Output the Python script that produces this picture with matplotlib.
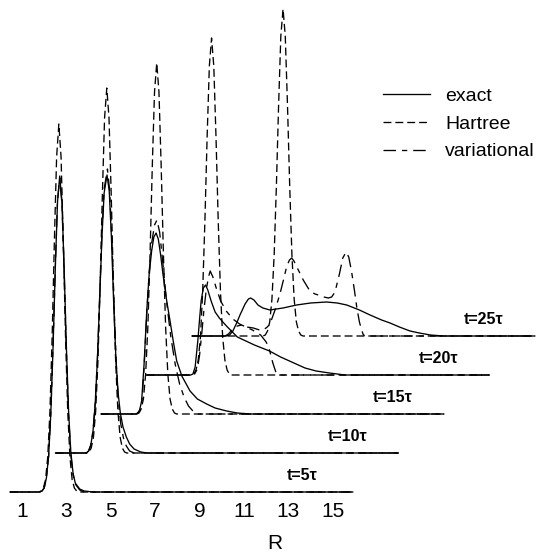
import matplotlib
matplotlib.use('Agg')
import matplotlib.pyplot as plt

plt.rcParams['font.family'] = ['Liberation Sans', 'DejaVu Sans']

# ---------------- data ----------------
time_labels = ['t=5τ', 't=10τ', 't=15τ', 't=20τ', 't=25τ']
x_ticks = [1, 3, 5, 7, 9, 11, 13, 15]
method_labels = ['exact', 'Hartree', 'variational']

# t = 5 tau
t5_exact_R = [1.8, 1.9, 2.0, 2.1, 2.2, 2.3, 2.4, 2.5, 2.6, 2.7, 2.8, 2.9, 3.0, 3.1, 3.2, 3.3, 3.4, 3.6, 3.8, 4.2]
t5_exact = [0, 0.01, 0.04, 0.14, 0.36, 0.79, 1.45, 2.23, 2.90, 3.16, 2.90, 2.23, 1.45, 0.80, 0.40, 0.19, 0.09, 0.03, 0.01, 0]
t5_hartree_R = [1.76, 1.86, 1.96, 2.06, 2.16, 2.26, 2.36, 2.46, 2.56, 2.66, 2.76, 2.86, 2.96, 3.06, 3.16, 3.26, 3.36, 3.46, 3.56]
t5_hartree = [0, 0.01, 0.04, 0.12, 0.35, 0.81, 1.57, 2.52, 3.35, 3.68, 3.35, 2.52, 1.57, 0.81, 0.35, 0.12, 0.04, 0.01, 0]
t5_var_R = [1.8, 1.9, 2.0, 2.1, 2.2, 2.3, 2.4, 2.5, 2.6, 2.7, 2.8, 2.9, 3.0, 3.1, 3.2, 3.3, 3.4, 3.6, 3.8, 4.2]
t5_var = [0, 0.01, 0.04, 0.14, 0.36, 0.80, 1.47, 2.25, 2.91, 3.14, 2.88, 2.20, 1.42, 0.77, 0.37, 0.17, 0.08, 0.02, 0.0, 0]

# t = 10 tau
t10_exact_R = [1.85, 1.95, 2.05, 2.15, 2.25, 2.35, 2.45, 2.55, 2.65, 2.78, 2.88, 2.98, 3.08, 3.18, 3.28, 3.38, 3.5, 3.65, 3.8, 4.0, 4.3, 4.6]
t10_exact = [0, 0.02, 0.08, 0.22, 0.50, 0.95, 1.55, 2.15, 2.60, 2.78, 2.62, 2.15, 1.50, 0.95, 0.60, 0.40, 0.26, 0.16, 0.09, 0.04, 0.01, 0]
t10_hartree_R = [1.87, 1.97, 2.07, 2.17, 2.27, 2.37, 2.47, 2.57, 2.67, 2.77, 2.87, 2.97, 3.07, 3.17, 3.27, 3.37, 3.47, 3.57, 3.67]
t10_hartree = [0, 0.01, 0.05, 0.16, 0.42, 0.91, 1.67, 2.58, 3.35, 3.65, 3.35, 2.58, 1.67, 0.91, 0.42, 0.16, 0.05, 0.01, 0]
t10_var_R = [1.85, 1.95, 2.05, 2.15, 2.25, 2.35, 2.45, 2.55, 2.65, 2.80, 2.90, 3.00, 3.10, 3.20, 3.30, 3.40, 3.52, 3.65, 3.80, 4.0]
t10_var = [0, 0.02, 0.08, 0.22, 0.50, 0.96, 1.57, 2.18, 2.64, 2.84, 2.62, 2.12, 1.46, 0.88, 0.50, 0.29, 0.15, 0.07, 0.02, 0]

# t = 15 tau
t15_exact_R = [2.05, 2.12, 2.2, 2.29, 2.4, 2.52, 2.63, 2.74, 2.84, 2.94, 3.04, 3.14, 3.25, 3.42, 3.57, 3.72, 3.87, 4.1, 4.47, 4.8, 5.22, 5.6, 6.12, 6.6, 7.2]
t15_exact = [0, 0.01, 0.04, 0.13, 0.50, 1.03, 1.40, 1.63, 1.77, 1.81, 1.75, 1.60, 1.40, 1.13, 0.93, 0.72, 0.53, 0.38, 0.23, 0.15, 0.10, 0.06, 0.03, 0.01, 0]
t15_hartree_R = [2.07, 2.17, 2.27, 2.37, 2.47, 2.57, 2.67, 2.77, 2.87, 2.97, 3.07, 3.17, 3.27, 3.37, 3.47, 3.57, 3.67, 3.77, 3.87]
t15_hartree = [0, 0.01, 0.05, 0.15, 0.40, 0.87, 1.61, 2.48, 3.22, 3.51, 3.22, 2.48, 1.61, 0.87, 0.40, 0.15, 0.05, 0.01, 0]
t15_var_R = [2.05, 2.2, 2.3, 2.4, 2.52, 2.63, 2.75, 2.87, 2.98, 3.1, 3.25, 3.4, 3.6, 3.8, 4.0, 4.2, 4.4, 4.6, 4.85]
t15_var = [0, 0.03, 0.12, 0.46, 1.00, 1.42, 1.72, 1.89, 1.94, 1.82, 1.50, 1.15, 0.78, 0.50, 0.30, 0.17, 0.08, 0.03, 0]

# t = 20 tau
t20_exact_R = [2.45, 2.55, 2.65, 2.77, 2.85, 2.92, 3.02, 3.12, 3.22, 3.37, 3.55, 3.74, 4.06, 4.55, 5.32, 6.0, 6.5, 6.9, 7.3, 7.6, 8.1, 8.7, 9.4]
t20_exact = [0, 0.01, 0.08, 0.34, 0.56, 0.74, 0.87, 0.90, 0.85, 0.74, 0.63, 0.57, 0.49, 0.38, 0.30, 0.24, 0.18, 0.14, 0.10, 0.07, 0.04, 0.02, 0]
t20_hartree_R = [2.49, 2.59, 2.69, 2.79, 2.89, 2.99, 3.09, 3.19, 3.29, 3.39, 3.49, 3.59, 3.69, 3.79, 3.89, 3.99, 4.09, 4.19, 4.29]
t20_hartree = [0, 0.01, 0.05, 0.15, 0.38, 0.84, 1.54, 2.38, 3.09, 3.37, 3.09, 2.38, 1.54, 0.84, 0.38, 0.15, 0.05, 0.01, 0]
t20_var_R = [2.6, 2.75, 2.85, 2.95, 3.05, 3.15, 3.25, 3.33, 3.45, 3.6, 3.8, 4.05, 4.35, 4.65, 5.23, 5.6, 5.85, 6.0, 6.15, 6.3, 6.4]
t20_var = [0, 0.06, 0.20, 0.42, 0.66, 0.85, 0.98, 1.04, 0.98, 0.87, 0.74, 0.64, 0.56, 0.51, 0.45, 0.40, 0.33, 0.25, 0.12, 0.02, 0]

# t = 25 tau
t25_exact_R = [2.0, 2.15, 2.3, 2.47, 2.62, 2.85, 3.0, 3.10, 3.25, 3.43, 3.65, 3.97, 4.56, 5.17, 5.8, 6.52, 7.0, 7.43, 8.0, 8.48, 9.0, 9.38, 9.8, 10.28, 10.7, 11.2, 11.8]
t25_exact = [0, 0.01, 0.05, 0.13, 0.21, 0.32, 0.37, 0.38, 0.36, 0.31, 0.28, 0.26, 0.28, 0.31, 0.33, 0.34, 0.33, 0.31, 0.26, 0.21, 0.16, 0.13, 0.09, 0.05, 0.03, 0.01, 0]
t25_hartree_R = [3.66, 3.76, 3.86, 3.96, 4.06, 4.16, 4.26, 4.36, 4.46, 4.56, 4.66, 4.76, 4.86, 4.96, 5.06, 5.16, 5.26, 5.36, 5.46]
t25_hartree = [0, 0.01, 0.05, 0.14, 0.37, 0.81, 1.50, 2.31, 3.00, 3.27, 3.00, 2.31, 1.50, 0.81, 0.37, 0.14, 0.05, 0.01, 0]
t25_var_R = [1.95, 2.1, 2.3, 2.5, 2.7, 2.92, 3.22, 3.5, 3.67, 3.85, 3.97, 4.2, 4.42, 4.6, 4.73, 4.85, 4.95, 5.05, 5.18, 5.47, 5.77, 6.0, 6.15, 6.4, 6.6, 6.75, 6.9, 7.1, 7.25, 7.4, 7.52, 7.65, 7.78, 7.88, 8.0, 8.1, 8.18, 8.3]
t25_var = [0, 0.02, 0.07, 0.10, 0.11, 0.09, 0.08, 0.06, 0.06, 0.09, 0.12, 0.26, 0.42, 0.58, 0.70, 0.76, 0.78, 0.75, 0.69, 0.56, 0.45, 0.42, 0.41, 0.39, 0.38, 0.39, 0.44, 0.62, 0.78, 0.84, 0.79, 0.64, 0.45, 0.29, 0.14, 0.06, 0.01, 0]

panels = [
    ((t5_exact_R, t5_exact), (t5_hartree_R, t5_hartree), (t5_var_R, t5_var)),
    ((t10_exact_R, t10_exact), (t10_hartree_R, t10_hartree), (t10_var_R, t10_var)),
    ((t15_exact_R, t15_exact), (t15_hartree_R, t15_hartree), (t15_var_R, t15_var)),
    ((t20_exact_R, t20_exact), (t20_hartree_R, t20_hartree), (t20_var_R, t20_var)),
    ((t25_exact_R, t25_exact), (t25_hartree_R, t25_hartree), (t25_var_R, t25_var)),
]

# ---------------- layout / style ----------------
R_START, R_END = 0.46, 15.9      # grid range of each curve
DX, DY = 2.05, 0.39              # waterfall offsets
LABEL_R, LABEL_DY = 13.6, 0.165  # position of time labels inside a panel

styles = [
    dict(color='black', lw=0.95, linestyle='-'),
    dict(color='black', lw=0.95, linestyle=(0, (6, 3))),
    dict(color='black', lw=0.95, linestyle=(0, (9.5, 4.5, 4, 4.5))),
]

fig = plt.figure(figsize=(5.37, 5.52), dpi=100)
ax = fig.add_axes([10 / 537, 60 / 552, 527 / 537, 492 / 552])
ax.set_xlim(0.46, 24.2)
ax.set_ylim(0, 4.92)
for s in ax.spines.values():
    s.set_visible(False)
ax.set_yticks([])
ax.set_xticks(x_ticks)
ax.set_xticklabels([str(t) for t in x_ticks])
ax.tick_params(axis='x', length=0, pad=7.5, labelsize=15)

for k, panel in enumerate(panels):
    for m, (rr, vv) in enumerate(panel):
        xs = [R_START + k * DX] + [r + k * DX for r in rr] + [R_END + k * DX]
        ys = [k * DY] + [v + k * DY for v in vv] + [k * DY]
        ax.plot(xs, ys, clip_on=False,
                label=method_labels[m] if k == 0 else None, **styles[m])
    ax.text(LABEL_R + k * DX, k * DY + LABEL_DY, time_labels[k],
            fontsize=11.5, fontweight='bold', ha='center', va='center')

ax.set_xlabel('R', fontsize=15)
ax.xaxis.set_label_coords(0.503, -0.0854)

ax.legend(loc='upper left', bbox_to_anchor=(383 / 537, 1 - 87 / 552),
          bbox_transform=fig.transFigure, frameon=False, fontsize=14,
          handlelength=2.42, handletextpad=0.77, labelspacing=0.53,
          borderpad=0, borderaxespad=0)

fig.savefig('out.png', dpi=100)
